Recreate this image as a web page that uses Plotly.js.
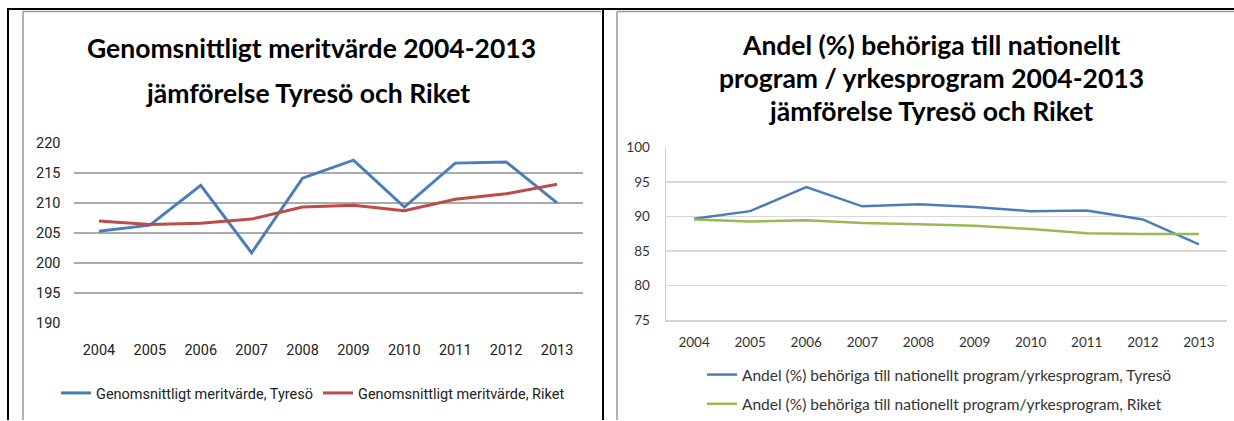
<!DOCTYPE html>
<html>
<head>
<meta charset="utf-8">
<script src="https://cdn.plot.ly/plotly-3.0.1.min.js"></script>
<style>html,body{margin:0;padding:0;background:#fff;}#chart{width:1234px;height:421px;}</style>
</head>
<body>
<div id="chart"></div>
<script>
// ---- data ----
const years = ["2004","2005","2006","2007","2008","2009","2010","2011","2012","2013"];
const meritTyreso = [205.3, 206.3, 212.9, 201.7, 214.1, 217.1, 209.3, 216.6, 216.8, 210.0];
const meritRiket  = [207.0, 206.4, 206.6, 207.3, 209.3, 209.6, 208.7, 210.6, 211.5, 213.1];
const andelTyreso = [89.7, 90.8, 94.3, 91.5, 91.8, 91.4, 90.8, 90.9, 89.6, 86.0];
const andelRiket  = [89.6, 89.3, 89.5, 89.1, 88.9, 88.7, 88.2, 87.6, 87.5, 87.5];
const leftTitle = ["Genomsnittligt meritvärde 2004-2013", "jämförelse Tyresö och Riket"];
const rightTitle = ["Andel (%) behöriga till nationellt", "program / yrkesprogram 2004-2013", "jämförelse Tyresö och Riket"];
const leftNames = ["Genomsnittligt meritvärde, Tyresö", "Genomsnittligt meritvärde, Riket"];
const rightNames = ["Andel (%) behöriga till nationellt program/yrkesprogram, Tyresö", "Andel (%) behöriga till nationellt program/yrkesprogram, Riket"];

const W = 1234, H = 421;
const px = x => x / W;
const py = y => 1 - y / H;

const narrow = "Roboto";
const hum = "Lato";

const traces = [
  {x: years, y: meritTyreso, type: "scatter", mode: "lines", name: leftNames[0],
   line: {color: "#4a7ebb", width: 3}, xaxis: "x", yaxis: "y", legend: "legend", legendgroup: "a"},
  {x: years, y: meritRiket, type: "scatter", mode: "lines", name: leftNames[1],
   line: {color: "#be4b48", width: 3}, xaxis: "x", yaxis: "y", legend: "legend", legendgroup: "b"},
  {x: years, y: andelTyreso, type: "scatter", mode: "lines", name: rightNames[0],
   line: {color: "#4a7ebb", width: 2.5}, xaxis: "x2", yaxis: "y2", legend: "legend2", legendgroup: "c"},
  {x: years, y: andelRiket, type: "scatter", mode: "lines", name: rightNames[1],
   line: {color: "#98b954", width: 2.5}, xaxis: "x2", yaxis: "y2", legend: "legend2", legendgroup: "d"}
];

const annotations = [];
[[leftTitle[0], 311, 48], [leftTitle[1], 308, 93]].forEach(([t, x, y]) => annotations.push({
  text: t, x: px(x), y: py(y), xref: "paper", yref: "paper", xanchor: "center", yanchor: "middle",
  showarrow: false, font: {family: hum, size: 26.5, color: "#000", weight: "bold"}
}));
[[rightTitle[0], 931, 45], [rightTitle[1], 931, 78], [rightTitle[2], 931, 111]].forEach(([t, x, y]) => annotations.push({
  text: t, x: px(x), y: py(y), xref: "paper", yref: "paper", xanchor: "center", yanchor: "middle",
  showarrow: false, font: {family: hum, size: 26.5, color: "#000", weight: "bold"}
}));

const shapes = [
  {type: "line", xref: "paper", yref: "paper", x0: px(7), x1: px(1234), y0: py(9), y1: py(9), line: {color: "#000", width: 2}},
  {type: "line", xref: "paper", yref: "paper", x0: px(8), x1: px(8), y0: py(9), y1: py(421), line: {color: "#000", width: 2}},
  {type: "line", xref: "paper", yref: "paper", x0: px(603), x1: px(603), y0: py(9), y1: py(421), line: {color: "#000", width: 2}},
  {type: "line", xref: "paper", yref: "paper", x0: px(23), x1: px(601), y0: py(11.5), y1: py(11.5), line: {color: "#9a9a9a", width: 1.5}},
  {type: "line", xref: "paper", yref: "paper", x0: px(23), x1: px(23), y0: py(11.5), y1: py(421), line: {color: "#9a9a9a", width: 1.5}},
  {type: "line", xref: "paper", yref: "paper", x0: px(617), x1: px(1234), y0: py(11.5), y1: py(11.5), line: {color: "#9a9a9a", width: 1.5}},
  {type: "line", xref: "paper", yref: "paper", x0: px(617), x1: px(617), y0: py(11.5), y1: py(421), line: {color: "#9a9a9a", width: 1.5}}
];

const layout = {
  width: W, height: H,
  margin: {l: 0, r: 0, t: 0, b: 0},
  paper_bgcolor: "#fff", plot_bgcolor: "rgba(0,0,0,0)",
  showlegend: true,
  xaxis: {domain: [px(73.5), px(582.5)], type: "category", range: [-0.5, 9.5],
    showgrid: false, zeroline: false, showline: false, ticks: "",
    ticklabelstandoff: 16, tickfont: {family: narrow, size: 14.5, color: "#222"}},
  yaxis: {domain: [py(324), py(143)], range: [190, 220], dtick: 5, tick0: 190,
    showgrid: true, gridcolor: "#ababab", gridwidth: 1.5, zeroline: false, showline: false, ticks: "",
    ticklabelstandoff: 12, tickfont: {family: narrow, size: 14.5, color: "#222"}},
  xaxis2: {domain: [px(666), px(1227)], type: "category", range: [-0.5, 9.5], anchor: "y2",
    showgrid: false, zeroline: false, showline: true, linecolor: "#d0d0d0", linewidth: 1.5, ticks: "",
    ticklabelstandoff: 9, tickfont: {family: hum, size: 13.5, color: "#333"}},
  yaxis2: {domain: [py(321), py(148)], range: [75, 100], dtick: 5, tick0: 75, anchor: "x2",
    showgrid: true, gridcolor: "#d9d9d9", gridwidth: 1.5, zeroline: false,
    showline: true, linecolor: "#d0d0d0", linewidth: 1.5, ticks: "",
    ticklabelstandoff: 12, tickfont: {family: hum, size: 13.5, color: "#333"}},
  legend: {orientation: "h", x: px(56), y: py(393), xanchor: "left", yanchor: "middle",
    bgcolor: "rgba(0,0,0,0)", font: {family: narrow, size: 14.5, color: "#222"},
    itemclick: false, traceorder: "normal", entrywidth: 217},
  legend2: {orientation: "v", x: px(702), y: py(390), xanchor: "left", yanchor: "middle",
    bgcolor: "rgba(0,0,0,0)", font: {family: hum, size: 15.5, color: "#333"},
    tracegroupgap: 6, traceorder: "grouped"},
  annotations: annotations,
  shapes: shapes
};

Plotly.newPlot("chart", traces, layout, {displayModeBar: false, staticPlot: true});
</script>
</body>
</html>
